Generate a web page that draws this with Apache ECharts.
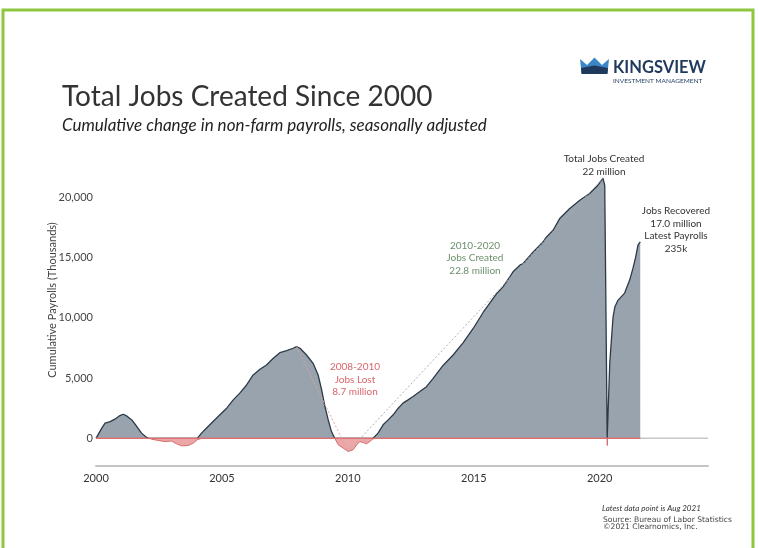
<!DOCTYPE html>
<html><head><meta charset="utf-8">
<script src="https://cdn.jsdelivr.net/npm/echarts@6/dist/echarts.min.js"></script>
<style>html,body{margin:0;padding:0;background:#fff}#c{width:758px;height:548px}</style>
</head><body><div id="c"></div>
<script>
// Cumulative change in non-farm payrolls since Jan 2000 (thousands)
const years = [2000.0,2000.23,2000.36,2000.56,2000.75,2000.95,2001.08,2001.22,2001.42,2001.62,2001.81,2002.01,2002.21,2002.47,2002.74,2003.0,2003.2,2003.4,2003.66,2003.86,2004.02,2004.19,2004.39,2004.65,2004.92,2005.19,2005.45,2005.71,2005.98,2006.24,2006.51,2006.77,2007.04,2007.3,2007.57,2007.83,2007.96,2008.1,2008.36,2008.62,2008.82,2008.96,2009.09,2009.22,2009.35,2009.48,2009.62,2009.81,2010.01,2010.21,2010.35,2010.48,2010.61,2010.74,2010.87,2011.0,2011.2,2011.4,2011.6,2011.8,2012.0,2012.19,2012.39,2012.59,2012.86,2013.12,2013.38,2013.78,2014.18,2014.58,2014.97,2015.37,2015.9,2016.16,2016.43,2016.56,2016.83,2016.96,2017.35,2017.75,2017.88,2018.15,2018.41,2018.81,2019.21,2019.6,2019.93,2020.13,2020.2,2020.3,2020.4,2020.53,2020.6,2020.73,2020.99,2021.19,2021.32,2021.43,2021.52,2021.61];
const values = [0,850,1260,1390,1590,1890,2000,1860,1530,980,430,70,-70,-180,-270,-230,-460,-620,-600,-400,-120,430,850,1390,1950,2500,3190,3750,4430,5260,5740,6090,6650,7110,7280,7480,7610,7480,6920,6230,5260,4020,2640,1530,560,0,-540,-810,-1090,-950,-540,-270,-350,-460,-270,-40,430,1120,1530,1950,2500,2920,3190,3470,3880,4290,4950,6050,6920,7950,9100,10450,12000,12580,13410,13830,14380,14520,15450,16300,16700,17280,18250,19080,19770,20330,21020,21600,21000,-600,6270,10070,10900,11480,12060,13140,14110,15070,16040,16310];
const yTickValues = [0,5000,10000,15000,20000];
const xTickValues = [2000,2005,2010,2015,2020];
const xMin = 2000, xMax = 2024.3, yMin = -2300, yMax = 22700;

// split into positive / negative parts at the zero crossings
const pos = [], neg = [];
for (let i = 0; i < years.length; i++) {
  if (i > 0) {
    const v0 = values[i-1], v1 = values[i];
    if ((v0 > 0 && v1 < 0) || (v0 < 0 && v1 > 0)) {
      const t = v0 / (v0 - v1);
      const xc = years[i-1] + t * (years[i] - years[i-1]);
      pos.push([xc, 0]); neg.push([xc, 0]);
    }
  }
  pos.push([years[i], Math.max(values[i], 0)]);
  neg.push([years[i], Math.min(values[i], 0)]);
}
function idxOfExtreme(lo, hi, useMax) {
  let best = -1;
  for (let i = 0; i < years.length; i++) {
    if (years[i] < lo || years[i] > hi) continue;
    if (best < 0 || (useMax ? values[i] > values[best] : values[i] < values[best])) best = i;
  }
  return best;
}
const iPeak08 = idxOfExtreme(2007, 2009, true);
const iTrough10 = idxOfExtreme(2009, 2011, false);
const iPeak20 = idxOfExtreme(2019, 2020.25, true);
const lastX = years[years.length - 1];

const FONT = 'Lato, "Open Sans", sans-serif';
const chart = echarts.init(document.getElementById('c'), null, {renderer: 'canvas'});
function txt(text, x, y, size, color, opts) {
  opts = opts || {};
  return {type: 'text', x: x, y: y, rotation: opts.rotation || 0, z: 100,
    style: {text: text, fill: color, font: (opts.style || 'normal') + ' ' + (opts.weight || 'normal') + ' ' + size + 'px ' + (opts.family || FONT),
      textAlign: opts.align || 'center', textVerticalAlign: 'middle'}};
}
const option = {
  backgroundColor: '#ffffff',
  animation: false,
  grid: {left: 96, right: 50, top: 165, height: 301},
  xAxis: {
    type: 'value', min: xMin, max: xMax,
    axisLine: {show: true, onZero: false, lineStyle: {color: '#c4c4c4', width: 2}},
    axisTick: {show: false}, splitLine: {show: false},
    axisLabel: {customValues: xTickValues, formatter: v => (v % 5 === 0 ? String(v) : ''), color: '#333', fontSize: 11, fontFamily: FONT, margin: 7}
  },
  yAxis: {
    type: 'value', min: yMin, max: yMax,
    axisLine: {show: false}, axisTick: {show: false}, splitLine: {show: false},
    axisLabel: {customValues: yTickValues, formatter: v => (v >= 0 && v % 5000 === 0 ? v.toLocaleString('en-US') : ''), color: '#444', fontSize: 11, fontFamily: FONT, margin: 3}
  },
  series: [
    {type: 'line', data: [[xMin, 0], [xMax, 0]], symbol: 'none', silent: true, z: 1,
      lineStyle: {color: '#c8c8c8', width: 1.5}},
    {type: 'line', data: pos, symbol: 'none', z: 2,
      lineStyle: {color: '#2c3a48', width: 1.3},
      areaStyle: {color: '#98a3ad', opacity: 1, origin: 0}},
    {type: 'line', data: neg, symbol: 'none', z: 3,
      lineStyle: {color: '#d96a6a', width: 1},
      areaStyle: {color: '#eca8a8', opacity: 1, origin: 0}},
    {type: 'line', data: [[xMin, 0], [lastX, 0]], symbol: 'none', z: 4,
      lineStyle: {color: '#e07070', width: 1.3}},
    {type: 'line', data: [[years[iPeak08], values[iPeak08]], [years[iTrough10], values[iTrough10]]], symbol: 'none', z: 5,
      lineStyle: {color: '#e3a0a0', width: 1, type: [2, 2]}},
    {type: 'line', data: [[years[iTrough10], values[iTrough10]], [years[iPeak20], values[iPeak20]]], symbol: 'none', z: 5,
      lineStyle: {color: '#b0b0b0', width: 1, type: [2, 2]}}
  ],
  graphic: [
    {type: 'rect', shape: {x: 3, y: 10, width: 750, height: 545}, style: {fill: 'none', stroke: '#8dc63f', lineWidth: 3}, z: 0},
    txt('Total Jobs Created Since 2000', 62, 97, 28, '#333333', {align: 'left'}),
    txt('Cumulative change in non-farm payrolls, seasonally adjusted', 62, 126, 17, '#222222', {align: 'left', style: 'italic'}),
    // logo
    {type: 'polygon', shape: {points: [[580,59],[587,65],[594.5,57.5],[602,65],[609,59],[607.5,73],[581.5,73]]}, style: {fill: '#3b86c6'}, z: 100},
    {type: 'polygon', shape: {points: [[581,68],[594.5,65.5],[608,68],[607.5,74],[581.5,74]]}, style: {fill: '#1f3a5c'}, z: 101},
    txt('KINGSVIEW', 613, 68, 16.5, '#1f3a5c', {align: 'left', weight: 'bold'}),
    txt('INVESTMENT MANAGEMENT', 613, 80.5, 6.5, '#1f3a5c', {align: 'left'}),
    // y axis name
    txt('Cumulative Payrolls (Thousands)', 52, 300, 11, '#444', {rotation: Math.PI / 2}),
    // annotations
    txt('Total Jobs Created', 604, 159, 10, '#333'),
    txt('22 million', 604, 171.5, 10, '#333'),
    txt('Jobs Recovered', 676, 210.5, 10, '#333'),
    txt('17.0 million', 676, 223.5, 10, '#333'),
    txt('Latest Payrolls', 676, 236, 10, '#333'),
    txt('235k', 676, 248.5, 10, '#333'),
    txt('2010-2020', 475, 245.5, 10, '#6d8f6e'),
    txt('Jobs Created', 475, 258, 10, '#6d8f6e'),
    txt('22.8 million', 475, 270.5, 10, '#6d8f6e'),
    txt('2008-2010', 355, 367, 10, '#d9666b'),
    txt('Jobs Lost', 355, 379.5, 10, '#d9666b'),
    txt('8.7 million', 355, 392, 10, '#d9666b'),
    // source
    txt('Latest data point is Aug 2021', 602, 508.5, 8, '#333', {align: 'left', style: 'italic'}),
    txt('Source: Bureau of Labor Statistics', 603, 520, 7.6, '#444', {align: 'left', family: '"DejaVu Sans", sans-serif'}),
    txt('\u00a92021 Clearnomics, Inc.', 603, 527.5, 7.6, '#444', {align: 'left', family: '"DejaVu Sans", sans-serif'})
  ]
};
chart.setOption(option);
</script></body></html>
